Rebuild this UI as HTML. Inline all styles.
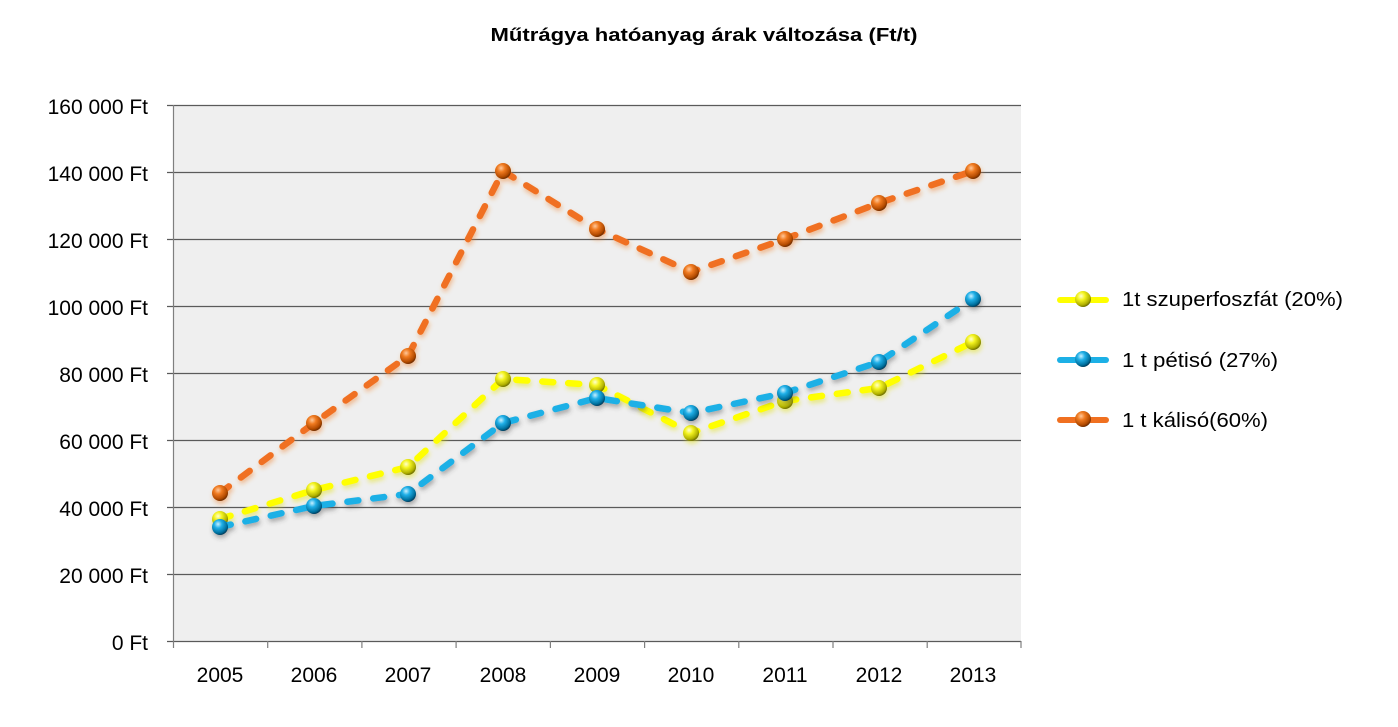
<!DOCTYPE html>
<html><head><meta charset="utf-8"><style>
html,body{margin:0;padding:0;background:#fff;}
svg{display:block;}
text{font-family:"Liberation Sans",sans-serif;fill:#000;}
</style></head><body>
<svg width="1398" height="727" viewBox="0 0 1398 727" xmlns="http://www.w3.org/2000/svg">
<defs>
<radialGradient id="gO" cx="0.38" cy="0.32" r="0.7">
<stop offset="0" stop-color="#ffc89a"/><stop offset="0.35" stop-color="#f07a20"/><stop offset="0.8" stop-color="#b24a00"/><stop offset="1" stop-color="#6a2a00"/></radialGradient>
<radialGradient id="gY" cx="0.38" cy="0.32" r="0.7">
<stop offset="0" stop-color="#ffffd0"/><stop offset="0.35" stop-color="#f4f420"/><stop offset="0.8" stop-color="#b0b000"/><stop offset="1" stop-color="#6a6a00"/></radialGradient>
<radialGradient id="gB" cx="0.38" cy="0.32" r="0.7">
<stop offset="0" stop-color="#c8f0ff"/><stop offset="0.35" stop-color="#20b0e8"/><stop offset="0.8" stop-color="#00709e"/><stop offset="1" stop-color="#003a58"/></radialGradient>
<filter id="shO" x="-10%" y="-10%" width="120%" height="120%"><feDropShadow dx="1" dy="3" stdDeviation="2.5" flood-color="#f07a20" flood-opacity="0.45"/></filter>
<filter id="shY" x="-10%" y="-10%" width="120%" height="120%"><feDropShadow dx="1" dy="3" stdDeviation="2.5" flood-color="#e0e000" flood-opacity="0.45"/></filter>
<filter id="shB" x="-10%" y="-10%" width="120%" height="120%"><feDropShadow dx="1" dy="3" stdDeviation="2.5" flood-color="#404040" flood-opacity="0.4"/></filter>
</defs>
<text x="704" y="41" font-size="18.5" font-weight="bold" text-anchor="middle" textLength="427" lengthAdjust="spacingAndGlyphs">Műtrágya hatóanyag árak változása (Ft/t)</text>
<rect x="173" y="105" width="848" height="536" fill="#efefef"/>
<g stroke="#5a5a5a" stroke-width="1.2">
<line x1="167" y1="105.5" x2="1021" y2="105.5"/>
<line x1="167" y1="172.5" x2="1021" y2="172.5"/>
<line x1="167" y1="239.5" x2="1021" y2="239.5"/>
<line x1="167" y1="306.5" x2="1021" y2="306.5"/>
<line x1="167" y1="373.5" x2="1021" y2="373.5"/>
<line x1="167" y1="440.5" x2="1021" y2="440.5"/>
<line x1="167" y1="507.5" x2="1021" y2="507.5"/>
<line x1="167" y1="574.5" x2="1021" y2="574.5"/>
<line x1="167" y1="641.5" x2="1021" y2="641.5"/>
</g>
<g stroke="#7f7f7f" stroke-width="1.2">
<line x1="173.5" y1="105" x2="173.5" y2="641"/>
<line x1="173.5" y1="641" x2="173.5" y2="648"/>
<line x1="267.7" y1="641" x2="267.7" y2="648"/>
<line x1="361.9" y1="641" x2="361.9" y2="648"/>
<line x1="456.1" y1="641" x2="456.1" y2="648"/>
<line x1="550.4" y1="641" x2="550.4" y2="648"/>
<line x1="644.6" y1="641" x2="644.6" y2="648"/>
<line x1="738.8" y1="641" x2="738.8" y2="648"/>
<line x1="833" y1="641" x2="833" y2="648"/>
<line x1="927.2" y1="641" x2="927.2" y2="648"/>
<line x1="1021" y1="641" x2="1021" y2="648"/>
</g>
<g font-size="21" text-anchor="end">
<text x="148" y="114">160 000 Ft</text>
<text x="148" y="181">140 000 Ft</text>
<text x="148" y="248">120 000 Ft</text>
<text x="148" y="315">100 000 Ft</text>
<text x="148" y="382">80 000 Ft</text>
<text x="148" y="449">60 000 Ft</text>
<text x="148" y="516">40 000 Ft</text>
<text x="148" y="583">20 000 Ft</text>
<text x="148" y="650">0 Ft</text>
</g>
<g font-size="21" text-anchor="middle">
<text x="220" y="682">2005</text>
<text x="314" y="682">2006</text>
<text x="408" y="682">2007</text>
<text x="503" y="682">2008</text>
<text x="597" y="682">2009</text>
<text x="691" y="682">2010</text>
<text x="785" y="682">2011</text>
<text x="879" y="682">2012</text>
<text x="973" y="682">2013</text>
</g>
<!-- yellow -->
<g filter="url(#shY)">
<polyline fill="none" stroke="#ffff00" stroke-width="6.5" stroke-linecap="round" stroke-dasharray="11 15" points="220,519 314,490 408,467 503,379 597,385 691,433 785,401 879,388 973,342"/>
<g fill="url(#gY)">
<circle cx="220" cy="519" r="8"/><circle cx="314" cy="490" r="8"/><circle cx="408" cy="467" r="8"/><circle cx="503" cy="379" r="8"/><circle cx="597" cy="385" r="8"/><circle cx="691" cy="433" r="8"/><circle cx="785" cy="401" r="8"/><circle cx="879" cy="388" r="8"/><circle cx="973" cy="342" r="8"/>
</g></g>
<!-- blue -->
<g filter="url(#shB)">
<polyline fill="none" stroke="#1cb0e6" stroke-width="6.5" stroke-linecap="round" stroke-dasharray="11 15" points="220,527 314,506 408,494 503,423 597,398 691,413 785,393 879,362 973,299"/>
<g fill="url(#gB)">
<circle cx="220" cy="527" r="8"/><circle cx="314" cy="506" r="8"/><circle cx="408" cy="494" r="8"/><circle cx="503" cy="423" r="8"/><circle cx="597" cy="398" r="8"/><circle cx="691" cy="413" r="8"/><circle cx="785" cy="393" r="8"/><circle cx="879" cy="362" r="8"/><circle cx="973" cy="299" r="8"/>
</g></g>
<!-- orange -->
<g filter="url(#shO)">
<polyline fill="none" stroke="#f07020" stroke-width="6.5" stroke-linecap="round" stroke-dasharray="11 15" points="220,493 314,423 408,356 503,171 597,229 691,272 785,239 879,203 973,171"/>
<g fill="url(#gO)">
<circle cx="220" cy="493" r="8"/><circle cx="314" cy="423" r="8"/><circle cx="408" cy="356" r="8"/><circle cx="503" cy="171" r="8"/><circle cx="597" cy="229" r="8"/><circle cx="691" cy="272" r="8"/><circle cx="785" cy="239" r="8"/><circle cx="879" cy="203" r="8"/><circle cx="973" cy="171" r="8"/>
</g></g>
<!-- legend -->
<g>
<line x1="1060" y1="300" x2="1106" y2="300" stroke="#ffff00" stroke-width="6" stroke-linecap="round"/>
<circle cx="1083" cy="299" r="8" fill="url(#gY)"/>
<line x1="1060" y1="360" x2="1106" y2="360" stroke="#1cb0e6" stroke-width="6" stroke-linecap="round"/>
<circle cx="1083" cy="359" r="8" fill="url(#gB)"/>
<line x1="1060" y1="420" x2="1106" y2="420" stroke="#f07020" stroke-width="6" stroke-linecap="round"/>
<circle cx="1083" cy="419" r="8" fill="url(#gO)"/>
</g>
<g font-size="20">
<text x="1122" y="306" textLength="221" lengthAdjust="spacingAndGlyphs">1t szuperfoszfát (20%)</text>
<text x="1122" y="367" textLength="156" lengthAdjust="spacingAndGlyphs">1 t pétisó  (27%)</text>
<text x="1122" y="427" textLength="146" lengthAdjust="spacingAndGlyphs">1 t kálisó(60%)</text>
</g>
</svg>
</body></html>
